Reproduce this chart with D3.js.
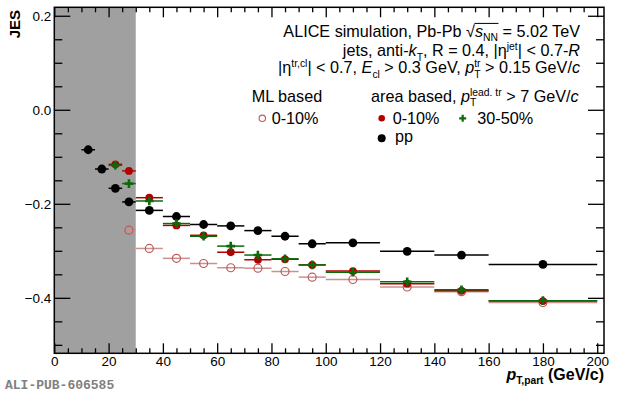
<!DOCTYPE html>
<html>
<head>
<meta charset="utf-8">
<script src="https://cdn.jsdelivr.net/npm/d3@7"></script>
<style>
  body { margin: 0; background: #fff; }
  text { font-family: "Liberation Sans", Arial, sans-serif; }
</style>
</head>
<body>
<svg id="chart"></svg>
<script>
// bin edges in pT,part (GeV/c)
const ptEdges = [10, 15, 20, 25, 30, 40, 50, 60, 70, 80, 90, 100, 120, 140, 160, 200];
// JES per bin (null = not shown)
const jesPP = [-0.085, -0.126, -0.167, -0.196, -0.214, -0.227, -0.244, -0.247, -0.257, -0.269, -0.285, -0.283, -0.301, -0.309, -0.329];
const jesArea010 = [null, null, -0.116, -0.130, -0.187, -0.246, -0.267, -0.303, -0.319, -0.318, -0.330, -0.343, -0.370, -0.385, -0.407];
const jesArea3050 = [null, null, -0.118, -0.157, -0.194, -0.242, -0.269, -0.290, -0.309, -0.317, -0.330, -0.3455, -0.366, -0.383, -0.406];
const jesML010 = [null, null, null, -0.256, -0.295, -0.316, -0.327, -0.336, -0.337, -0.344, -0.356, -0.361, -0.377, -0.387, -0.410];
const shadedRange = [0, 30];
const xTicks = [0, 20, 40, 60, 80, 100, 120, 140, 160, 180, 200];
const yTicks = [-0.4, -0.2, 0.0, 0.2];

const width = 620;
const height = 395;
const mLeft = 54.3, mRight = 604, mTop = 7.3, mBottom = 353.3;

const red = "#b00000";
const green = "#0b6b0b";
const mlColor = "#bd5a5a";
const mlBar = "#cc9090";

const svg = d3.select("#chart").attr("width", width).attr("height", height);
svg.append("rect").attr("width", width).attr("height", height).attr("fill", "#fff");

const x = d3.scaleLinear().domain([0, 202.5]).range([mLeft, mRight]);
const y = d3.scaleLinear().domain([-0.518, 0.218]).range([mBottom, mTop]);

// shaded region
svg.append("rect")
  .attr("x", x(shadedRange[0]))
  .attr("y", mTop)
  .attr("width", x(shadedRange[1]) - x(shadedRange[0]))
  .attr("height", mBottom - mTop)
  .attr("fill", "#a0a0a0");

// axes
const xMinor = d3.range(0, 201, 5).filter(v => v % 20 !== 0);
const yMinor = d3.range(-10, 5).filter(k => k % 4 !== 0).map(k => k * 0.05);

function styleAxis(g) {
  g.select(".domain").remove();
  g.selectAll(".tick line").attr("stroke", "#000").attr("stroke-width", 1.3);
  g.selectAll(".tick text").attr("fill", "#000")
    .style("font-family", "'Liberation Sans', Arial, sans-serif");
}

svg.append("g").attr("transform", `translate(0,${mBottom})`)
  .call(d3.axisBottom(x).tickValues(xTicks).tickSize(-10).tickFormat(d3.format("d")))
  .call(styleAxis)
  .selectAll("text").style("font-size", "13.5px").attr("y", 3);
svg.append("g").attr("transform", `translate(0,${mBottom})`)
  .call(d3.axisBottom(x).tickValues(xMinor).tickSize(-5).tickFormat(""))
  .call(styleAxis);
svg.append("g").attr("transform", `translate(0,${mTop})`)
  .call(d3.axisTop(x).tickValues(xTicks).tickSize(-10).tickFormat(""))
  .call(styleAxis);
svg.append("g").attr("transform", `translate(0,${mTop})`)
  .call(d3.axisTop(x).tickValues(xMinor).tickSize(-5).tickFormat(""))
  .call(styleAxis);

svg.append("g").attr("transform", `translate(${mLeft},0)`)
  .call(d3.axisLeft(y).tickValues(yTicks).tickSize(-16).tickPadding(3).tickFormat(d3.format(".1f")))
  .call(styleAxis)
  .selectAll("text").style("font-size", "13.5px");
svg.append("g").attr("transform", `translate(${mLeft},0)`)
  .call(d3.axisLeft(y).tickValues(yMinor).tickSize(-8).tickFormat(""))
  .call(styleAxis);
svg.append("g").attr("transform", `translate(${mRight},0)`)
  .call(d3.axisRight(y).tickValues(yTicks).tickSize(-16).tickFormat(""))
  .call(styleAxis);
svg.append("g").attr("transform", `translate(${mRight},0)`)
  .call(d3.axisRight(y).tickValues(yMinor).tickSize(-8).tickFormat(""))
  .call(styleAxis);

// frame
svg.append("rect")
  .attr("x", mLeft).attr("y", mTop)
  .attr("width", mRight - mLeft).attr("height", mBottom - mTop)
  .attr("fill", "none").attr("stroke", "#000").attr("stroke-width", 1.5);

// data
function rows(vals) {
  return vals.map((v, i) => ({ lo: ptEdges[i], hi: ptEdges[i + 1], v: v }))
    .filter(d => d.v !== null);
}

function bars(data, color, w) {
  svg.append("g").selectAll("line").data(data).enter().append("line")
    .attr("x1", d => x(d.lo)).attr("x2", d => x(d.hi))
    .attr("y1", d => y(d.v)).attr("y2", d => y(d.v))
    .attr("stroke", color).attr("stroke-width", w);
}

function circles(g, data, r, fill, stroke, sw) {
  g.selectAll("circle").data(data).enter().append("circle")
    .attr("cx", d => x((d.lo + d.hi) / 2)).attr("cy", d => y(d.v))
    .attr("r", r).attr("fill", fill).attr("stroke", stroke).attr("stroke-width", sw);
}

function plus(g, data, s, color) {
  g.selectAll("path").data(data).enter().append("path")
    .attr("d", d => {
      const cx = x((d.lo + d.hi) / 2), cy = y(d.v);
      return `M${cx - s},${cy}H${cx + s}M${cx},${cy - s}V${cy + s}`;
    })
    .attr("stroke", color).attr("stroke-width", 2.6).attr("fill", "none");
}

const ml = rows(jesML010), pp = rows(jesPP), a010 = rows(jesArea010), a3050 = rows(jesArea3050);

bars(ml, mlBar, 1.5);
circles(svg.append("g"), ml, 4, "none", mlColor, 1.2);
bars(pp, "#000", 1.5);
circles(svg.append("g"), pp, 4.4, "#000", "none", 0);
bars(a010, red, 1.5);
circles(svg.append("g"), a010, 3.9, red, "none", 0);
bars(a3050, green, 1.5);
plus(svg.append("g"), a3050, 4.3, green);

// rich text: plain / italic / sub / sup runs, plus stacked sup+sub
function rich(sel, parts, size) {
  const small = size * 0.64;
  let pendingDy = 0;
  let extra = 0;
  parts.forEach(p => {
    if (p.stack) {
      const sp = sel.append("tspan").attr("font-size", small).attr("dy", pendingDy - size * 0.36).text(p.stack[0]);
      const w1 = sp.node().getComputedTextLength();
      const sb = sel.append("tspan").attr("font-size", small).attr("dx", -w1).attr("dy", size * 0.36 + size * 0.28).text(p.stack[1]);
      const w2 = sb.node().getComputedTextLength();
      pendingDy = -size * 0.28;
      extra = Math.max(0, w1 - w2);
      return;
    }
    const ts = sel.append("tspan").text(p.t);
    let dy = pendingDy;
    if (p.sub) { ts.attr("font-size", small); dy += size * 0.28; pendingDy = -size * 0.28; }
    else if (p.sup) { ts.attr("font-size", small); dy -= size * 0.36; pendingDy = size * 0.36; }
    else { pendingDy = 0; }
    if (extra) { ts.attr("dx", extra); extra = 0; }
    if (dy) ts.attr("dy", dy);
    if (p.italic) ts.attr("font-style", "italic");
  });
  return sel;
}

const fs = 16.2;
const line1 = svg.append("text").attr("x", 580).attr("y", 36.7).attr("text-anchor", "end").attr("font-size", fs);
rich(line1, [{ t: "ALICE simulation, Pb-Pb \u221A" }, { t: "s", italic: true }, { t: "NN", sub: true }, { t: " = 5.02 TeV" }], fs);
// overline of the square root
{
  const n = line1.node();
  const full = n.textContent;
  const i0 = full.indexOf("\u221A");
  const i1 = full.indexOf("NN") + 1;
  const p0 = n.getEndPositionOfChar(i0);
  const p1 = n.getEndPositionOfChar(i1);
  svg.append("line").attr("x1", p0.x - 0.5).attr("x2", p1.x + 0.5)
    .attr("y1", 36.7 - fs * 0.82).attr("y2", 36.7 - fs * 0.82)
    .attr("stroke", "#000").attr("stroke-width", 1);
}

const line2 = svg.append("text").attr("x", 580).attr("y", 56).attr("text-anchor", "end").attr("font-size", fs);
rich(line2, [{ t: "jets, anti-" }, { t: "k", italic: true }, { t: "T", sub: true }, { t: ", R = 0.4, |\u03B7" },
  { t: "jet", sup: true }, { t: "| < 0.7-" }, { t: "R", italic: true }], fs);

const line3 = svg.append("text").attr("x", 580).attr("y", 73.3).attr("text-anchor", "end").attr("font-size", fs);
rich(line3, [{ t: "|\u03B7" }, { t: "tr,cl", sup: true }, { t: "| < 0.7, " }, { t: "E", italic: true }, { t: "cl", sub: true },
  { t: " > 0.3 GeV, " }, { t: "p", italic: true }, { stack: ["tr", "T"] }, { t: " > 0.15 GeV/" }, { t: "c", italic: true }], fs);

// legend
const lg = svg.append("g");
lg.append("text").attr("x", 251.7).attr("y", 101.7).attr("font-size", fs).text("ML based");
rich(lg.append("text").attr("x", 371).attr("y", 101.7).attr("font-size", fs),
  [{ t: "area based, " }, { t: "p", italic: true }, { stack: ["lead. tr", "T"] }, { t: " > 7 GeV/" }, { t: "c", italic: true }], fs);

lg.append("circle").attr("cx", 262.3).attr("cy", 118.3).attr("r", 3.2).attr("fill", "none").attr("stroke", mlColor).attr("stroke-width", 1.1);
lg.append("text").attr("x", 271.7).attr("y", 123.5).attr("font-size", fs).text("0-10%");
lg.append("circle").attr("cx", 381.7).attr("cy", 118.3).attr("r", 3.3).attr("fill", red);
lg.append("text").attr("x", 392.7).attr("y", 123.5).attr("font-size", fs).text("0-10%");
lg.append("path").attr("d", "M459.2,118.3H466.2M462.7,114.8V121.8").attr("stroke", green).attr("stroke-width", 2.2);
lg.append("text").attr("x", 477.3).attr("y", 123.5).attr("font-size", fs).text("30-50%");
lg.append("circle").attr("cx", 381.7).attr("cy", 138.3).attr("r", 4).attr("fill", "#000");
lg.append("text").attr("x", 395).attr("y", 142).attr("font-size", fs).text("pp");

// axis titles
svg.append("text")
  .attr("transform", "translate(19.5,10) rotate(-90)")
  .attr("text-anchor", "end").attr("font-size", 15).attr("font-weight", "bold").text("JES");

const xt = svg.append("text").attr("x", 604).attr("y", 380).attr("text-anchor", "end")
  .attr("font-size", 16).attr("font-weight", "bold");
rich(xt, [{ t: "p", italic: true }, { t: "T,part", sub: true }, { t: " (GeV/c)" }], 16);

svg.append("text").attr("x", 5).attr("y", 389)
  .style("font-family", "'Liberation Mono', 'Courier New', monospace")
  .attr("font-size", 13).attr("font-weight", "bold").attr("fill", "#808080").text("ALI-PUB-606585");
</script>
</body>
</html>
